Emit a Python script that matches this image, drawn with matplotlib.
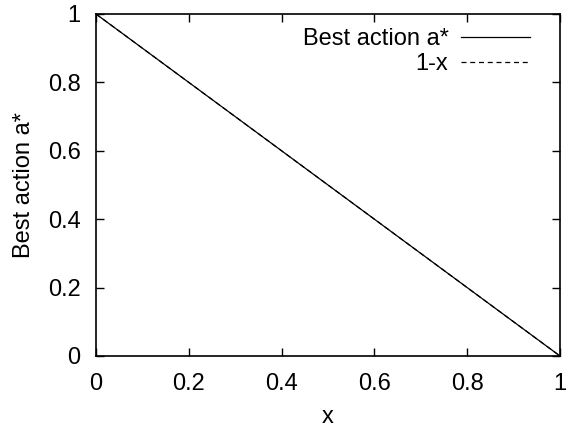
import matplotlib
matplotlib.use("Agg")
import matplotlib.pyplot as plt

# data: best action a* against x, plus the reference line 1-x
x = [0.0, 0.2, 0.4, 0.6, 0.8, 1.0]
best_action = [1.0, 0.8, 0.6, 0.4, 0.2, 0.0]
one_minus_x = [1.0, 0.8, 0.6, 0.4, 0.2, 0.0]
ticks = [0, 0.2, 0.4, 0.6, 0.8, 1]
tick_labels = ["0", "0.2", "0.4", "0.6", "0.8", "1"]

plt.rcParams["font.family"] = ["Liberation Sans", "DejaVu Sans"]
plt.rcParams["font.size"] = 17

fig = plt.figure(figsize=(5.67, 4.30), dpi=100)
ax = fig.add_axes([96 / 567, 74 / 430, 464 / 567, 342 / 430])

ax.plot(x, one_minus_x, color="black", lw=0.9,
        linestyle=(0, (4, 3)), label="1-x")
ax.plot(x, best_action, color="black", lw=0.9, label="Best action a*")

ax.set_xlim(0, 1)
ax.set_ylim(0, 1)
ax.set_xticks(ticks)
ax.set_xticklabels(tick_labels)
ax.set_yticks(ticks)
ax.set_yticklabels(tick_labels)
ax.tick_params(direction="in", length=6, width=1, top=True, right=True)
ax.tick_params(axis="x", pad=12)
ax.tick_params(axis="y", pad=11)
for s in ax.spines.values():
    s.set_linewidth(1.2)

ax.set_xlabel("x", labelpad=8)
ax.set_ylabel("Best action a*", labelpad=9)

h, l = ax.get_legend_handles_labels()
ax.legend(h[::-1], l[::-1], loc="upper right", bbox_to_anchor=(0.935, 0.958),
          frameon=False, markerfirst=False, borderpad=0, borderaxespad=0,
          handlelength=2.9, handletextpad=0.55, labelspacing=0.12)

fig.savefig("out.png", dpi=100)
